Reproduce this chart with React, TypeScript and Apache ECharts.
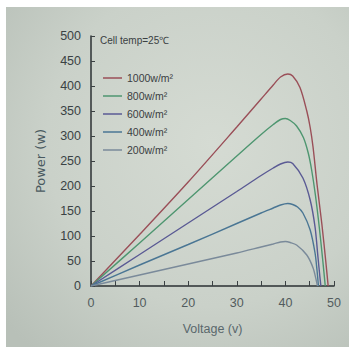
import React, { useEffect, useRef } from "react";
import * as echarts from "echarts";

// Voltage (V), Power (W) pairs
const s1000: [number, number][] = [
  [0, 0], [10, 103], [20, 208], [30, 318], [35, 374],
  [37.5, 402], [39, 418], [40.5, 424], [41.5, 420], [43, 397], [44.4, 350], [45.1, 317],
  [45.7, 277], [46.5, 204], [47.5, 124], [48.3, 50], [48.8, 0],
];
const s800: [number, number][] = [
  [0, 0], [10, 86], [20, 173], [30, 260], [35, 303],
  [37.5, 323], [39, 333], [40, 335], [41, 331], [42.3, 320], [43.7, 297], [44.7, 266],
  [45.4, 232], [46.2, 180], [47, 115], [47.7, 50], [48.2, 0],
];
const s600: [number, number][] = [
  [0, 0], [10, 63], [20, 126], [30, 189], [35, 221],
  [37.5, 236], [39, 244], [40.5, 248], [41.5, 245], [43.6, 216], [45.1, 172], [46.1, 118],
  [46.7, 58], [47.1, 18], [47.3, 0],
];
const s400: [number, number][] = [
  [0, 0], [10, 42], [20, 83], [30, 125], [35, 146],
  [37.5, 156], [39, 162], [40.5, 165], [41.5, 163], [42.5, 158], [43.6, 146], [45.1, 112],
  [46.1, 66], [46.5, 32], [46.8, 0],
];
const s200: [number, number][] = [
  [0, 0], [10, 22], [20, 44], [30, 66], [35, 78],
  [37.5, 84], [39, 88], [40, 89], [41, 87], [42.3, 82], [44.4, 62], [45.7, 36],
  [46.4, 9], [46.6, 0],
];

const seriesNames = ["1000w/m²", "800w/m²", "600w/m²", "400w/m²", "200w/m²"];
const seriesData = [s1000, s800, s600, s400, s200];
const seriesColors = ["#9a4f58", "#4e9670", "#5a5a94", "#4a7694", "#7a8a9a"];

const yTicks = { min: 0, max: 500, interval: 50 };
const xTicks = { min: 0, max: 50, interval: 10 };

const SANS = "'Liberation Sans', Arial, sans-serif";

export default function App() {
  const ref = useRef<HTMLDivElement>(null);
  useEffect(() => {
    if (!ref.current) return;
    const chart = echarts.init(ref.current, null, { renderer: "svg" });
    chart.setOption({
      animation: false,
      backgroundColor: "#ffffff",
      graphic: [
        {
          type: "rect",
          z: -100,
          silent: true,
          shape: { x: 6, y: 7, width: 343, height: 340 },
          style: {
            fill: {
              type: "radial",
              x: 0.6,
              y: 0.4,
              r: 0.8,
              colorStops: [
                { offset: 0, color: "#d5dbd3" },
                { offset: 0.6, color: "#cad1c9" },
                { offset: 1, color: "#b8c0b8" },
              ],
            },
          },
        },
        {
          type: "text",
          left: 100,
          top: 35,
          style: {
            text: "Cell temp=25℃",
            fill: "#3a4042",
            font: `10px ${SANS}`,
          },
        },
      ],
      legend: {
        orient: "vertical",
        left: 98,
        top: 67,
        icon: "rect",
        itemWidth: 19,
        itemHeight: 1.5,
        itemGap: 6,
        data: seriesNames,
        textStyle: { fontFamily: SANS, fontSize: 10.5, color: "#3a4042", lineHeight: 12 },
      },
      grid: { left: 91, right: 19, top: 36, bottom: 70 },
      xAxis: {
        type: "value",
        min: xTicks.min,
        max: xTicks.max,
        interval: xTicks.interval,
        name: "Voltage (v)",
        nameLocation: "middle",
        nameGap: 36,
        nameTextStyle: { fontFamily: SANS, fontSize: 12.5, color: "#5a686c" },
        axisLine: { show: true, lineStyle: { color: "#2b3133", width: 1.5 } },
        axisTick: { show: true, inside: true, length: 5, lineStyle: { color: "#3b4143" } },
        minorTick: { show: true, splitNumber: 2, length: 5, lineStyle: { color: "#3b4143" } },
        axisLabel: { margin: 10, fontFamily: SANS, fontSize: 12.5, color: "#525c5e" },
        splitLine: { show: false },
      },
      yAxis: {
        type: "value",
        min: yTicks.min,
        max: yTicks.max,
        interval: yTicks.interval,
        name: "Power (w)",
        nameLocation: "middle",
        nameGap: 44,
        nameTextStyle: { fontFamily: "'DejaVu Sans', sans-serif", fontSize: 13, color: "#4a5a60" },
        axisLine: { show: true, lineStyle: { color: "#2b3133", width: 1.5 } },
        axisTick: { show: true, inside: true, length: 4, lineStyle: { color: "#3b4143" } },
        axisLabel: { margin: 10, fontFamily: SANS, fontSize: 12.5, color: "#3a4244" },
        splitLine: { show: false },
      },
      series: seriesNames.map((name, i) => ({
        name,
        type: "line",
        data: seriesData[i],
        showSymbol: false,
        symbol: "none",
        smooth: 0.3,
        color: seriesColors[i],
        lineStyle: { width: 1.4, color: seriesColors[i] },
      })),
    });
    return () => chart.dispose();
  }, []);
  return (
    <div
      ref={ref}
      style={{ position: "fixed", left: 0, top: 0, width: 353, height: 356 }}
    />
  );
}
